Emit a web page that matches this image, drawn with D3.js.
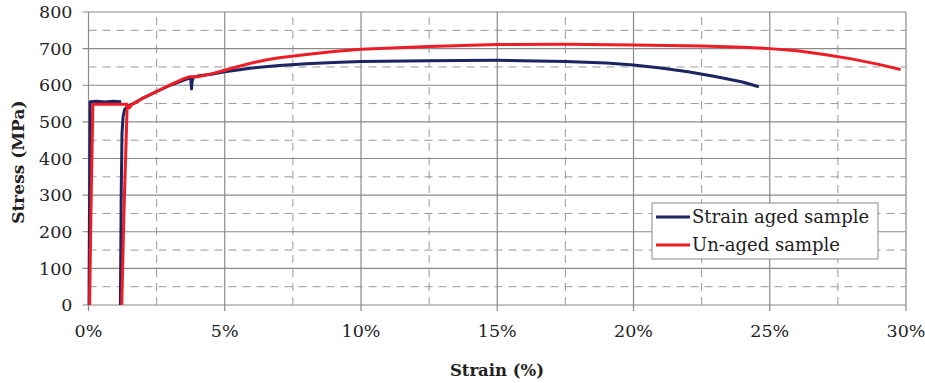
<!DOCTYPE html>
<html>
<head>
<meta charset="utf-8">
<script src="https://cdn.jsdelivr.net/npm/d3@7"></script>
<style>
  body { margin: 0; background: #fff; }
  svg { display: block; }
  text { font-family: "DejaVu Serif", serif; fill: #222; }
</style>
</head>
<body>
<svg id="chart" width="925" height="383"></svg>
<script>
// tick values
const xTicks = [0, 5, 10, 15, 20, 25, 30];
const yTicks = [0, 100, 200, 300, 400, 500, 600, 700, 800];
const seriesNames = ['Strain aged sample', 'Un-aged sample'];
const seriesColors = ['#1c2562', '#ee1c25'];

// strain aged sample (null = pen up)
const agedStrain = [0.02, 0.04, 0.06, 0.3, 0.6, 0.9, 1.2, null,
  1.17, 1.2, 1.23, 1.27, 1.33, 1.45, 1.7, 2.0, 2.5, 3.0, 3.5, 3.75, 3.78, 3.8, 3.85, 4.0, 4.5, 5.0, 6.0, 7.0, 8.0, 9.0, 10.0,
  12.5, 15.0, 17.5, 19.0, 20.0, 21.0, 22.0, 23.0, 24.0, 24.6];
const agedStress = [0, 300, 555, 556, 554, 556, 555, null,
  0, 300, 470, 515, 535, 543, 552, 565, 583, 600, 614, 620, 590, 610, 622, 625, 630, 637, 647, 654, 659, 662, 665,
  667, 668, 665, 661, 655, 647, 637, 624, 609, 596];

// un-aged sample
const unagedStrain = [0.04, 0.1, 0.16, 0.5, 1.0, 1.42, null,
  1.22, 1.3, 1.42, 1.5, 1.6, 1.8, 2.0, 2.5, 3.0, 3.5, 3.7, 4.0, 4.5, 5.0, 5.5, 6.0, 6.5, 7.0, 8.0, 9.0, 10.0,
  12.5, 15.0, 17.5, 20.0, 22.5, 24.0, 25.0, 26.0, 27.0, 28.0, 29.0, 29.8];
const unagedStress = [0, 300, 548, 548, 548, 548, null,
  0, 250, 548, 538, 548, 556, 565, 583, 601, 618, 623, 623, 631, 641, 651, 661, 669, 675, 684, 692, 698,
  706, 711, 712, 710, 707, 704, 700, 694, 684, 672, 657, 643];

const svg = d3.select('#chart');
const margin = { left: 88.5, right: 19, top: 12, bottom: 78 };
const width = 925 - margin.left - margin.right;
const height = 383 - margin.top - margin.bottom;

const x = d3.scaleLinear().domain([0, 30]).range([margin.left, margin.left + width]);
const y = d3.scaleLinear().domain([0, 800]).range([margin.top + height, margin.top]);

// minor dashed grid
const grid = svg.append('g').attr('class', 'grid');
grid.selectAll('line.ymin')
  .data(d3.range(50, 800, 100))
  .join('line')
  .attr('x1', x(0)).attr('x2', x(30))
  .attr('y1', d => y(d)).attr('y2', d => y(d))
  .attr('stroke', '#999').attr('stroke-width', 1)
  .attr('stroke-dasharray', '8,6');
grid.selectAll('line.xmin')
  .data(d3.range(2.5, 30, 5))
  .join('line')
  .attr('y1', y(0)).attr('y2', y(800))
  .attr('x1', d => x(d)).attr('x2', d => x(d))
  .attr('stroke', '#999').attr('stroke-width', 1)
  .attr('stroke-dasharray', '8,6');

// major solid grid
svg.append('g').selectAll('line')
  .data(yTicks)
  .join('line')
  .attr('x1', x(0) - 6).attr('x2', x(30))
  .attr('y1', d => y(d)).attr('y2', d => y(d))
  .attr('stroke', '#8a8a8a').attr('stroke-width', 1.2);
svg.append('g').selectAll('line')
  .data(xTicks)
  .join('line')
  .attr('y1', y(0) + 6).attr('y2', y(800))
  .attr('x1', d => x(d)).attr('x2', d => x(d))
  .attr('stroke', '#8a8a8a').attr('stroke-width', 1.2);

// tick labels
svg.append('g').selectAll('text')
  .data(yTicks)
  .join('text')
  .attr('x', x(0) - 16)
  .attr('y', d => y(d))
  .attr('dy', '0.35em')
  .attr('text-anchor', 'end')
  .attr('font-size', 17.5)
  .text(d => d);
svg.append('g').selectAll('text')
  .data(xTicks)
  .join('text')
  .attr('x', d => x(d))
  .attr('y', y(0) + 32)
  .attr('text-anchor', 'middle')
  .attr('font-size', 17.5)
  .text(d => d + '%');

// axis titles
svg.append('text')
  .attr('x', 497)
  .attr('y', 376)
  .attr('text-anchor', 'middle')
  .attr('font-size', 16.5)
  .attr('font-weight', 'bold')
  .text('Strain (%)');
svg.append('text')
  .attr('transform', 'translate(24,' + y(390) + ') rotate(-90)')
  .attr('text-anchor', 'middle')
  .attr('font-size', 17)
  .attr('font-weight', 'bold')
  .text('Stress (MPa)');

// curves
const line = d3.line()
  .defined(d => d[0] != null)
  .x(d => x(d[0]))
  .y(d => y(d[1]));

const series = [
  d3.zip(agedStrain, agedStress),
  d3.zip(unagedStrain, unagedStress)
];

svg.append('g').selectAll('path')
  .data(series)
  .join('path')
  .attr('d', line)
  .attr('fill', 'none')
  .attr('stroke', (d, i) => seriesColors[i])
  .attr('stroke-width', 3)
  .attr('stroke-linejoin', 'round');

// legend
const legend = svg.append('g').attr('transform', 'translate(652,203)');
legend.append('rect')
  .attr('width', 226).attr('height', 56)
  .attr('fill', '#fff').attr('stroke', '#888').attr('stroke-width', 1);
const items = legend.selectAll('g.item')
  .data(seriesNames)
  .join('g')
  .attr('transform', (d, i) => 'translate(0,' + (14 + i * 28) + ')');
items.append('line')
  .attr('x1', 4).attr('x2', 38)
  .attr('stroke', (d, i) => seriesColors[i])
  .attr('stroke-width', 3);
items.append('text')
  .attr('x', 40)
  .attr('dy', '0.35em')
  .attr('font-size', 18)
  .text(d => d);
</script>
</body>
</html>
